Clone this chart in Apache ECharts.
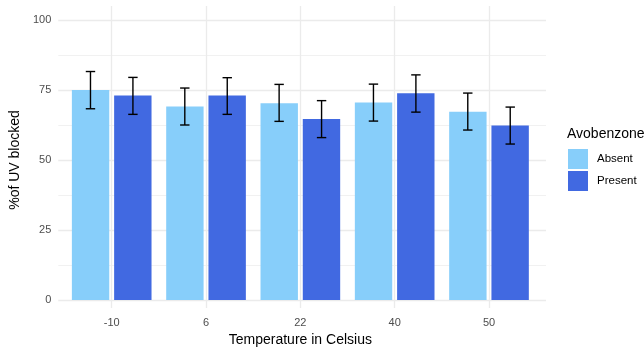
<!DOCTYPE html>
<html>
<head>
<meta charset="utf-8">
<script src="https://cdn.jsdelivr.net/npm/echarts@6/dist/echarts.min.js"></script>
<style>html,body{margin:0;padding:0;background:#fff}#c{width:644px;height:352px}</style>
</head>
<body>
<div id="c"></div>
<script>
const categories = ['-10', '6', '22', '40', '50'];
const absentValues = [75.0, 69.1, 70.3, 70.5, 67.2];
const presentValues = [73.0, 73.0, 64.6, 73.8, 62.3];
const absentLow = [68.3, 62.5, 63.8, 63.9, 60.7];
const absentHigh = [81.6, 75.7, 77.0, 77.1, 73.9];
const presentLow = [66.3, 66.3, 58.0, 67.1, 55.7];
const presentHigh = [79.5, 79.4, 71.2, 80.4, 68.9];
const yTicks = [0, 25, 50, 75, 100];

const FONT = '"Liberation Sans", Arial, sans-serif';
const GRID = '#ebebeb';

function errSeries(name, low, high, frac) {
  return {
    name: name,
    type: 'custom',
    xAxisIndex: 1, yAxisIndex: 1,
    z: 5,
    data: low.map((l, i) => [i, l, high[i]]),
    renderItem: function (params, api) {
      const i = api.value(0);
      const top = api.coord([i, api.value(2)]);
      const bot = api.coord([i, api.value(1)]);
      const bw = api.size([1, 0])[0];
      const x = top[0] + frac * bw;
      const hw = 4.7;
      const st = { stroke: '#000', lineWidth: 1.4, fill: null };
      return {
        type: 'group',
        children: [
          { type: 'line', shape: { x1: x, y1: top[1], x2: x, y2: bot[1] }, style: st },
          { type: 'line', shape: { x1: x - hw, y1: top[1], x2: x + hw, y2: top[1] }, style: st },
          { type: 'line', shape: { x1: x - hw, y1: bot[1], x2: x + hw, y2: bot[1] }, style: st }
        ]
      };
    }
  };
}

const chart = echarts.init(document.getElementById('c'), null, { renderer: 'canvas' });
chart.setOption({
  animation: false,
  textStyle: { fontFamily: FONT },
  title: {
    text: 'Avobenzone', left: 567, top: 127, padding: 0,
    textStyle: { fontFamily: FONT, fontSize: 14, fontWeight: 'normal', color: '#000' }
  },
  legend: {
    data: ['Absent', 'Present'],
    orient: 'vertical', left: 568, top: 149, padding: 0,
    itemWidth: 20, itemHeight: 20, itemGap: 2, icon: 'rect',
    textStyle: { fontFamily: FONT, fontSize: 11.5, color: '#000', padding: [0, 0, 0, 4] }
  },
  grid: [
    { left: 55, right: 98, top: 20, bottom: 52 },
    { left: 111.7, width: 377.3, top: 20, bottom: 52 },
    { left: 111.7, width: 377.3, top: 6, bottom: 38 }
  ],
  xAxis: [
    { gridIndex: 0, type: 'value', show: false, min: 0, max: 1 },
    { gridIndex: 1, type: 'category', data: categories, boundaryGap: false, show: false },
    {
      gridIndex: 2, type: 'category', data: categories, boundaryGap: false,
      axisLine: { show: false }, axisTick: { show: false },
      axisLabel: { margin: 9, fontFamily: FONT, fontSize: 11, color: '#4d4d4d' },
      splitLine: { show: true, lineStyle: { color: GRID, width: 1.3 } },
      name: 'Temperature in Celsius', nameLocation: 'middle', nameGap: 23,
      nameTextStyle: { fontFamily: FONT, fontSize: 14, color: '#000' }
    }
  ],
  yAxis: [
    {
      gridIndex: 0, type: 'value', min: yTicks[0], max: yTicks[yTicks.length - 1], interval: 25,
      axisLine: { show: false }, axisTick: { show: false },
      axisLabel: { margin: 7, fontFamily: FONT, fontSize: 11, color: '#4d4d4d' },
      splitLine: { show: true, lineStyle: { color: GRID, width: 1.3 } },
      minorTick: { show: false, splitNumber: 2 },
      minorSplitLine: { show: true, lineStyle: { color: GRID, width: 0.7 } },
      name: '%of UV blocked', nameLocation: 'middle', nameGap: 25, nameRotate: 90,
      nameTextStyle: { fontFamily: FONT, fontSize: 14, color: '#000' }
    },
    { gridIndex: 1, type: 'value', min: 0, max: 100, show: false },
    { gridIndex: 2, type: 'value', min: 0, max: 1, show: false }
  ],
  series: [
    {
      name: 'Absent', type: 'bar', xAxisIndex: 1, yAxisIndex: 1,
      data: absentValues, barWidth: 37.4, barGap: '13%',
      itemStyle: { color: '#87CEFA' }
    },
    {
      name: 'Present', type: 'bar', xAxisIndex: 1, yAxisIndex: 1,
      data: presentValues, barWidth: 37.4, barGap: '13%',
      itemStyle: { color: '#4169E1' }
    },
    errSeries('errA', absentLow, absentHigh, -0.225),
    errSeries('errP', presentLow, presentHigh, 0.225)
  ]
});
</script>
</body>
</html>
